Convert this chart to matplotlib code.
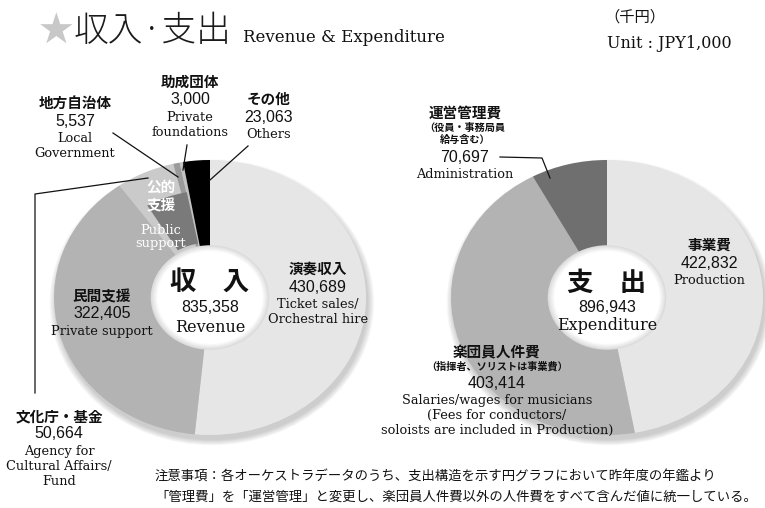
# Revenue / expenditure donuts (unit: JPY 1,000)
import matplotlib
matplotlib.use("Agg")
import matplotlib.pyplot as plt
from matplotlib.patches import Circle, Wedge

W, H = 765, 508
JP = ["Noto Sans CJK JP", "DejaVu Sans"]
SERIF = ["DejaVu Serif"]
NUM = ["Liberation Sans", "DejaVu Sans"]

# revenue slices, clockwise from 12 o'clock
rev_names = ["演奏収入", "民間支援", "文化庁・基金", "地方自治体", "助成団体", "その他"]
rev_en = ["Ticket sales/\nOrchestral hire", "Private support",
          "Agency for\nCultural Affairs/\nFund", "Local\nGovernment",
          "Private\nfoundations", "Others"]
rev_values = [430689, 322405, 50664, 5537, 3000, 23063]
rev_colors = ["#e6e6e6", "#b3b3b3", "#cacaca", "#9a9a9a", "#c2c2c2", "#000000"]

# expenditure slices, clockwise from 12 o'clock
exp_names = ["事業費", "楽団員人件費", "運営管理費"]
exp_sub = ["", "（指揮者、ソリストは事業費）", "（役員・事務局員\n給与含む）"]
exp_en = ["Production",
          "Salaries/wages for musicians\n(Fees for conductors/\nsoloists are included in Production)",
          "Administration"]
exp_values = [422832, 403414, 70697]
exp_colors = ["#e6e6e6", "#b3b3b3", "#6f6f6f"]

fig = plt.figure(figsize=(W / 100, H / 100), dpi=100)
RX, RY, PAD, R_IN = 156, 137.5, 1.15, 0.38


def donut(cx, cy, values, colors):
    ax = fig.add_axes([(cx - PAD * RX) / W, 1 - (cy + PAD * RY) / H,
                       2 * PAD * RX / W, 2 * PAD * RY / H])
    # soft drop shadow, mostly below / right
    n = 10
    for i in range(n):
        ax.add_patch(Circle((0.012, -0.035), 0.995 + 0.0045 * (n - i),
                            color="#666666", alpha=0.035, lw=0))
    ax.pie(values, colors=colors, startangle=90, counterclock=False,
           radius=1, wedgeprops=dict(linewidth=0))
    return ax


def hole(ax):
    n = 8
    for k in range(n):
        g = 0.86 + 0.14 * k / (n - 1)
        ax.add_patch(Circle((0, 0), R_IN - 0.006 * k, color=(g, g, g), lw=0))


def finish(ax):
    ax.set_aspect("auto")
    ax.set_xlim(-PAD, PAD)
    ax.set_ylim(-PAD, PAD)
    ax.axis("off")


ax1 = donut(210, 297.5, rev_values, rev_colors)
# darker band marking the 公的支援 group
ax1.add_patch(Wedge((0, 0), 0.78, 101, 121, width=0.38, color="#7a7a7a", lw=0))
hole(ax1)
finish(ax1)

ax2 = donut(607, 297.5, exp_values, exp_colors)
hole(ax2)
finish(ax2)

# overlay in pixel coordinates for labels and leader lines
ov = fig.add_axes([0, 0, 1, 1])
ov.set_xlim(0, W)
ov.set_ylim(H, 0)
ov.axis("off")
ov.patch.set_alpha(0)


def t(x, y, s, size, fam, weight="normal", color="#111111", ha="center", ls=1.15):
    ov.text(x, y, s, fontsize=size, family=fam, fontweight=weight, color=color,
            ha=ha, va="center", linespacing=ls)


def block(x, y, jp, num, en, sub=None):
    t(x, y, jp, 10.5, JP, "bold")
    yy = y
    if sub:
        nl = sub.count("\n") + 1
        t(x, y + 8 + 6.5 * nl, sub, 7.3, JP, "bold", ls=1.3)
        yy = y + 13 * nl
    t(x, yy + 18, num, 11.5, NUM)
    nl = en.count("\n") + 1
    t(x, yy + 28 + 7.5 * nl, en, 9.3, SERIF, ls=1.2)


fmt = lambda v: f"{v:,}"

# title
t(56, 31, "★", 25, JP, color="#c8c8c8")
t(74, 31, "収入·支出", 25, JP, "light", color="#1a1a1a", ha="left")
t(243, 38, "Revenue & Expenditure", 12, SERIF, ha="left")
t(604, 17, "（千円）", 11, JP, ha="left")
t(607, 43, "Unit : JPY1,000", 11.5, SERIF, ha="left")

# revenue labels
block(318, 269, rev_names[0], fmt(rev_values[0]), rev_en[0])
block(102, 296, rev_names[1], fmt(rev_values[1]), rev_en[1])
block(59, 416, rev_names[2], fmt(rev_values[2]), rev_en[2])
block(75, 103, rev_names[3], fmt(rev_values[3]), rev_en[3])
block(190, 82, rev_names[4], fmt(rev_values[4]), rev_en[4])
block(269, 99, rev_names[5], fmt(rev_values[5]), rev_en[5])
t(161, 196, "公的\n支援", 10.5, JP, "bold", color="white", ls=1.25)
t(161, 237, "Public\nsupport", 9.3, SERIF, color="white", ls=1.1)

t(210, 282, "収\u3000入", 19, JP, "bold")
t(210, 308, fmt(sum(rev_values)), 11.5, NUM)
t(210, 327, "Revenue", 11.5, SERIF)

# expenditure labels
block(709, 245, exp_names[0], fmt(exp_values[0]), exp_en[0])
block(497, 352, exp_names[1], fmt(exp_values[1]), exp_en[1], sub=exp_sub[1])
block(465, 113, exp_names[2], fmt(exp_values[2]), exp_en[2], sub=exp_sub[2])

t(607, 283, "支\u3000出", 19, JP, "bold")
t(607, 307, fmt(sum(exp_values)), 11.5, NUM)
t(607, 326, "Expenditure", 11.5, SERIF)

# leader lines
lk = dict(color="#111111", lw=0.9)
ov.plot([113, 178], [133, 177], **lk)
ov.plot([187, 183], [145, 170], **lk)
ov.plot([248, 210], [146, 180], **lk)
ov.plot([148, 35, 35], [178, 194, 393], **lk)
ov.plot([500, 542, 550], [157, 158, 178], **lk)

# note
t(155, 477, "注意事項：各オーケストラデータのうち、支出構造を示す円グラフにおいて昨年度の年鑑より",
  9.6, JP, ha="left")
t(155, 497, "「管理費」を「運営管理」と変更し、楽団員人件費以外の人件費をすべて含んだ値に統一している。",
  9.6, JP, ha="left")

fig.savefig("out.png", dpi=100)
